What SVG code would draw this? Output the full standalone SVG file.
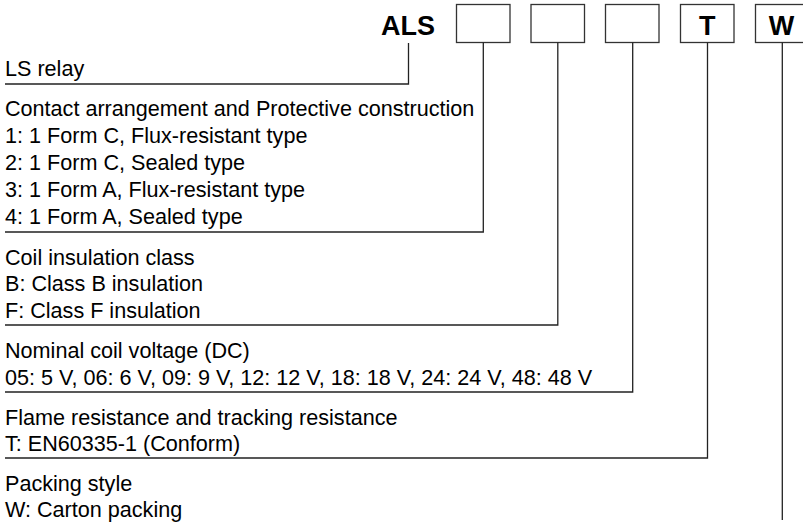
<svg xmlns="http://www.w3.org/2000/svg" width="803" height="522" viewBox="0 0 803 522">
<style>
.t{font-family:"Liberation Sans",Arial,sans-serif;font-size:21.6px;fill:#000}
.b{font-family:"Liberation Sans",Arial,sans-serif;font-size:27px;font-weight:bold;fill:#000}
.box{fill:#fff;stroke:#333;stroke-width:1.3}
.ln{fill:none;stroke:#222;stroke-width:1.3}
</style>
<rect width="803" height="522" fill="#fff"/>
<g id="code">
<text class="b" x="381" y="35">ALS</text>
</g>
<g id="box1"><rect class="box" x="456.5" y="4.5" width="53.5" height="38"/></g>
<g id="box2"><rect class="box" x="531" y="4.5" width="53.5" height="38"/></g>
<g id="box3"><rect class="box" x="605.5" y="4.5" width="53.5" height="38"/></g>
<g id="box4"><rect class="box" x="680.5" y="4.5" width="53.5" height="38"/><text class="b" x="707.3" y="35" text-anchor="middle">T</text></g>
<g id="box5"><rect class="box" x="755.5" y="4.5" width="53.5" height="38"/><text class="b" x="781.5" y="35" text-anchor="middle">W</text></g>
<g id="connectors">
<polyline class="ln" points="408.5,43 408.5,84 5,84"/>
<polyline class="ln" points="483.3,42.5 483.3,232 5,232"/>
<polyline class="ln" points="557.8,42.5 557.8,325 5,325"/>
<polyline class="ln" points="632.7,42.5 632.7,392 5,392"/>
<polyline class="ln" points="707.5,42.5 707.5,458 5,458"/>
<polyline class="ln" points="782.3,42.5 782.3,520"/>
</g>
<g id="ls">
<text class="t" x="5" y="76">LS relay</text>
</g>
<g id="contact">
<text class="t" x="5" y="116">Contact arrangement and Protective construction</text>
<text class="t" x="5" y="143">1: 1 Form C, Flux-resistant type</text>
<text class="t" x="5" y="170">2: 1 Form C, Sealed type</text>
<text class="t" x="5" y="197">3: 1 Form A, Flux-resistant type</text>
<text class="t" x="5" y="224">4: 1 Form A, Sealed type</text>
</g>
<g id="coil">
<text class="t" x="5" y="264.5">Coil insulation class</text>
<text class="t" x="5" y="291">B: Class B insulation</text>
<text class="t" x="5" y="318">F: Class F insulation</text>
</g>
<g id="voltage">
<text class="t" x="5" y="358">Nominal coil voltage (DC)</text>
<text class="t" x="5" y="385">05: 5 V, 06: 6 V, 09: 9 V, 12: 12 V, 18: 18 V, 24: 24 V, 48: 48 V</text>
</g>
<g id="flame">
<text class="t" x="5" y="424.5">Flame resistance and tracking resistance</text>
<text class="t" x="5" y="451">T: EN60335-1 (Conform)</text>
</g>
<g id="packing">
<text class="t" x="5" y="490.5">Packing style</text>
<text class="t" x="5" y="517">W: Carton packing</text>
</g>
</svg>
